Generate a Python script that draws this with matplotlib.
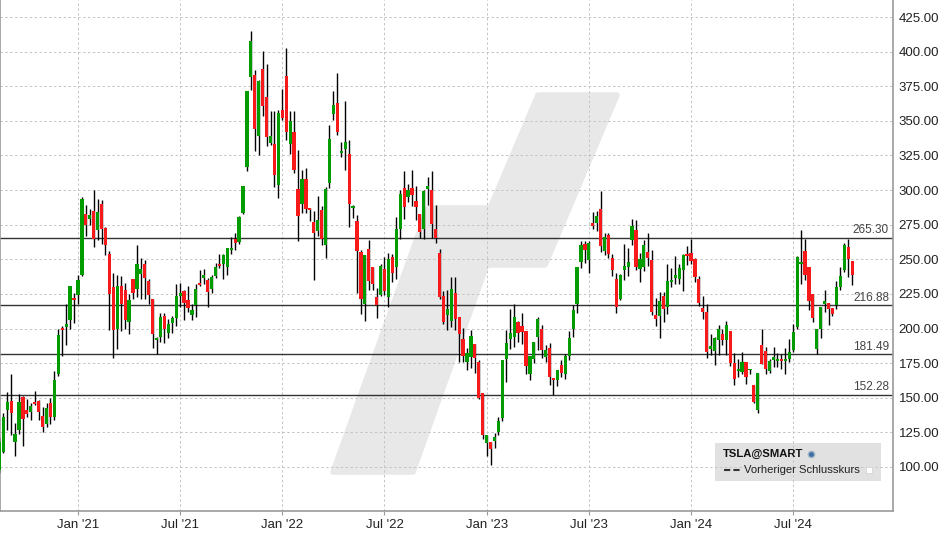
import matplotlib
matplotlib.use('Agg')
import matplotlib.pyplot as plt
import matplotlib.dates as mdates
from matplotlib.patches import Polygon, Rectangle
from matplotlib.lines import Line2D
import numpy as np
import pandas as pd

plt.rcParams['font.family'] = ['Liberation Sans', 'DejaVu Sans']

# weekly candles TSLA
opens = [98, 111, 141, 148, 118, 126.5, 150.5, 141, 140, 147, 148, 137, 131, 146, 136, 167, 200.5, 201, 206, 222,
         224, 239, 283, 279, 285, 271, 290, 272.5, 254, 230, 199.5, 231, 228, 204.6, 235.7, 228.4, 239.3, 246.5, 234, 221,
         191.6, 194, 209, 196.7, 203.7, 207.6, 223.3, 227, 220.4, 209.8, 216.8, 232.7, 236.4, 235, 228.4, 237.8, 246.5, 246.5, 244.3, 256.6,
         265, 262.4, 283.5, 316.7, 382, 383, 339, 387.4, 367, 333.8, 333, 303.4, 357.7, 382.6, 333, 341.8, 301, 290.3, 307.7, 287,
         277.3, 270.8, 285.3, 260, 304.8, 354.8, 362.8, 326.6, 329.5, 325.8, 286.8, 278, 255, 218, 257.2, 244.2, 222.5, 224, 242.7, 222.5,
         251.4, 244.2, 271.6, 301.3, 294.8, 301.3, 291.9, 282.5, 271.6, 300.5, 299.8, 271.6, 254.3, 223.2, 209.5, 205.5, 225.5, 208.2, 192.3, 175.7,
         179.3, 188.7, 175.7, 153.4, 117.3, 118, 119, 125, 135.6, 178.1, 192.5, 194, 204.6, 201.7, 198.1, 167.3, 177.9, 194, 199.5, 179.3,
         185.8, 164.3, 162.7, 173.5, 167, 180, 199.8, 217.6, 248, 261, 249.4, 276.1, 276.1, 286.3, 255.9, 267.5, 250.8, 235.7, 221.2, 242.2,
         244.3, 263.9, 271.1, 242.8, 244.2, 255, 249.3, 209.6, 208.9, 223.3, 215.4, 233.4, 236.3, 235.6, 242.1, 253.6, 254.3, 250, 235.6, 214.7,
         211.8, 185.1, 183.7, 191.6, 195.9, 191.6, 198.1, 175, 169.2, 168.8, 176, 169.7, 159.4, 141.3, 188.2, 183.9, 169.5, 177.4, 176.7, 177.9,
         176.7, 178.1, 184.6, 201.2, 246.9, 256, 244.5, 225, 185.3, 199.8, 217.8, 218.5, 214.9, 217.1, 230, 242.3, 258.9, 248.8]
highs = [122, 139, 154, 167, 132, 153, 151, 149, 146, 155, 148.5, 143, 146, 150, 169, 199.5, 202, 218, 231, 226,
         239, 295, 289, 286, 300, 293.5, 293, 273, 256, 240, 239, 238, 233, 225, 236, 260, 251, 249.4, 236, 221,
         194, 211, 211, 207, 209, 232, 233, 228, 230.5, 217.5, 232, 242, 243, 236.4, 238.5, 247, 253.7, 253.7, 258, 266,
         269, 281.3, 303, 371.5, 415, 386.7, 379.5, 400.5, 391, 357, 357, 357.7, 373, 402.7, 357, 357, 328.7, 314.3, 315.7, 287,
         285, 296, 288.2, 302, 347, 371.5, 384.5, 335, 364.3, 336, 289, 281.7, 256.4, 252.8, 263.7, 244.2, 229, 246.3, 251.4, 254.3,
         253.6, 280.3, 300, 313.6, 304.2, 314.3, 302.7, 282.5, 300, 309.2, 313.6, 289, 257.2, 226.8, 227.5, 237, 237, 208.2, 200.2, 185.8,
         198.8, 188.7, 177.2, 153.4, 123.1, 118, 124.5, 136, 177.2, 198.8, 213.9, 217.5, 205.3, 211, 198.1, 180.1, 190.1, 208.2, 202.4, 188,
         189.4, 164.3, 169.9, 177.1, 181.4, 198.1, 216.9, 244.3, 263.1, 263.1, 263.1, 284.1, 284.8, 299.3, 268.9, 268.9, 253.7, 240, 239.3, 261,
         258, 279, 278.3, 254.3, 263.7, 268.8, 256.5, 221.9, 226.2, 226.2, 246.4, 243.5, 252.2, 246.4, 253.6, 259.4, 264.4, 250.7, 237.7, 223.3,
         217.5, 195.9, 193.8, 202.4, 199.5, 205.3, 198.1, 182.2, 177.9, 183.2, 176, 170.9, 159.4, 168, 199.8, 186.8, 178.1, 186.8, 182.5, 181.7,
         186.1, 192.5, 203.4, 252.4, 271.2, 264.7, 244.5, 225, 199.8, 215.6, 227.9, 218.5, 214.9, 234.4, 244.5, 261.8, 264.7, 248.8]
lows = [96, 110, 127, 123, 108, 123.5, 115, 136, 134, 144.5, 134, 125, 129, 131, 134, 166, 180, 188, 200, 204,
        218, 238, 267, 275, 259, 264, 261, 253, 199, 179, 185, 198, 199.5, 196, 221, 223, 221, 221, 218, 186,
        181.5, 190, 189.5, 193, 196.7, 202, 215.6, 206, 212, 206, 208, 231, 232, 215.6, 225.5, 236.4, 243.6, 235.6, 238.5, 253.7,
        256.6, 261, 282.7, 313.8, 372, 328, 325, 353.4, 332, 332.4, 302, 294, 350.5, 336, 326, 312, 263, 283.3, 283.3, 278,
        234.8, 267, 260, 250.7, 301.4, 350.5, 339.6, 323.7, 314.3, 273, 279.6, 225.4, 210.2, 205.8, 227.5, 227.5, 207.3, 223.2, 224, 215.2,
        233.3, 235.5, 265, 278.9, 291.1, 288.3, 278.1, 265.1, 265, 289, 265.1, 261.5, 221, 203, 198.6, 201.2, 199, 175.7, 175.7, 170,
        171.4, 167.8, 149, 120.4, 108, 101.4, 113.7, 123, 133.4, 161.5, 185.3, 186.8, 190.1, 188.7, 167.3, 163, 175, 184.4, 178.6, 175.7,
        159, 151.8, 158.3, 164.8, 163.4, 177.1, 193.7, 211.1, 243.6, 247.2, 240, 271.8, 270.4, 255.2, 253, 250.8, 237.8, 211.1, 220.5, 235,
        237.8, 260.2, 242.2, 233.4, 241.3, 245, 209.6, 201.7, 193, 204.6, 210.3, 229.8, 232, 232, 226.9, 245.7, 246.9, 233.4, 216.1, 206.7,
        178.6, 180.8, 173.6, 180.8, 188, 180.8, 172.8, 159.1, 164.9, 167.3, 160.1, 167.3, 146.4, 139, 174.5, 167.3, 168, 172.4, 172.4, 170.9,
        167.3, 176, 183.2, 199.8, 232.2, 235.1, 213.5, 204.8, 181.7, 193.3, 212, 202.6, 209.1, 214.2, 227.9, 240.9, 237.3, 231.5]
closes = [118, 136, 147, 139, 124, 147, 135, 138, 144, 145.5, 140, 129, 142.5, 136, 163, 195, 199, 203, 231, 220.5,
          235, 293.5, 275, 282, 265, 284, 272, 260, 225, 199, 230.6, 217.6, 206, 220.5, 225.5, 246.5, 243, 236.4, 224, 196,
          193, 208, 199.4, 203, 207.4, 223.3, 226, 218.5, 215, 213.6, 228.4, 231.3, 238.5, 226.2, 237, 244.3, 245, 253, 258, 258,
          261.7, 280.6, 303, 371.5, 407.7, 344, 379, 360.6, 338, 338.9, 310.6, 355.8, 352, 341.8, 349.8, 314.3, 281.6, 307.7, 286, 285.5,
          269.3, 278.7, 265, 301, 336.7, 361.4, 341.8, 328, 334.5, 290, 288.3, 255.7, 221, 252.8, 234.1, 232, 216.7, 245, 226.8, 250,
          239.8, 271.6, 297, 287.5, 299.8, 296.2, 287.5, 269.5, 299, 302.7, 275.2, 265.1, 222.5, 204.4, 213.8, 228.4, 207, 196, 180.3, 182.2,
          194.5, 178.8, 150, 123.3, 123.1, 113.2, 121.6, 133.4, 177.2, 189.4, 196.6, 208.2, 196.9, 197.4, 173.1, 180.1, 190.1, 206.7, 184.3, 184.3,
          164.8, 162.9, 169.9, 167.7, 180, 193, 213.3, 244.3, 260.2, 256.6, 261.7, 274, 281.2, 259.5, 266, 253.7, 242.2, 215.4, 238.6, 245,
          248, 274, 244.1, 250, 260.1, 250.7, 211.8, 207, 219.7, 214, 234.1, 234.9, 238.5, 243.5, 252.9, 252.4, 248.6, 237, 218.3, 211.8,
          182.9, 187.3, 193, 199.5, 191.6, 202.4, 175, 163.5, 170.7, 176, 165.1, 170.9, 147.1, 168, 174.5, 170.9, 176.7, 179.1, 178.1, 176.7,
          178.1, 183.2, 197.6, 251.7, 248.1, 238.7, 220, 207.7, 199.8, 215.6, 220, 214.2, 210.6, 230, 238, 260.3, 250.2, 238.7]
levels = [265.30, 216.88, 181.49, 152.28]
ytick_vals = list(range(100, 426, 25))

dates = pd.date_range('2020-08-17', periods=len(opens), freq='7D')
x = mdates.date2num(dates)
o = np.array(opens); h = np.array(highs); l = np.array(lows); c = np.array(closes)
up = c >= o

W, H = 948, 539
fig = plt.figure(figsize=(W / 100, H / 100), dpi=100)
ax = fig.add_axes([0, 28 / H, 893 / W, 511 / H])
ax.set_facecolor('white')

# pixel helpers (axes fraction)
def ax_pt(px, py):
    return (px / 893, (511 - py) / 511)

# watermark: stepped slash made of two slanted pieces
wm_col = '#e8e8e8'
upper = [ax_pt(538, 95), ax_pt(617, 95), ax_pt(545, 265), ax_pt(466, 265)]
lower = [ax_pt(428, 208), ax_pt(507, 208), ax_pt(413, 472), ax_pt(333, 472)]
for pts in (upper, lower):
    ax.add_patch(Polygon(pts, closed=True, transform=ax.transAxes, facecolor=wm_col,
                         edgecolor=wm_col, lw=4, joinstyle='round', zorder=0.2))

# grid
grid_kw = dict(color='#c4c4c4', lw=0.7, ls=(0, (2.5, 2.5)), zorder=1)
for v in ytick_vals:
    ax.axhline(v, **grid_kw)

# x ticks: first candle of Jan / Jul
tick_idx = [i for i in range(1, len(dates)) if dates[i].month in (1, 7) and dates[i - 1].month != dates[i].month]
tick_x = x[tick_idx]
tick_lbl = [dates[i].strftime("%b '%y") for i in tick_idx]
for tx in tick_x:
    ax.axvline(tx, **grid_kw)

# legend box
ax.add_patch(Rectangle(ax_pt(715, 481), 166 / 893, 38 / 511, transform=ax.transAxes,
                       facecolor='#e1e1e1', edgecolor='none', zorder=0.5))
tx0, ty0 = ax_pt(723, 454)
ax.text(tx0, ty0, 'TSLA@SMART', transform=ax.transAxes, fontsize=8.1, fontweight='bold',
        va='center', ha='left', color='#111111', zorder=5)
ax.plot([ax_pt(811, 0)[0]], [ax_pt(0, 454)[1]], marker='o', ms=4.5, color='#3d6fa3',
        markeredgecolor='#9fb4c8', transform=ax.transAxes, zorder=5)
ax.add_line(Line2D([ax_pt(724, 0)[0], ax_pt(741, 0)[0]], [ax_pt(0, 470)[1]] * 2, transform=ax.transAxes,
                   color='#333333', lw=1.5, ls=(0, (3, 1.5)), zorder=5))
tx1, ty1 = ax_pt(744, 470)
ax.text(tx1, ty1, 'Vorheriger Schlusskurs', transform=ax.transAxes, fontsize=8.1,
        va='center', ha='left', color='#222222', zorder=5)
ax.add_patch(Rectangle(ax_pt(866, 473), 6 / 893, 6 / 511, transform=ax.transAxes,
                       facecolor='white', edgecolor='#d4d4d4', lw=0.6, zorder=5))

# level lines
for lv in levels:
    ax.axhline(lv, color='#333333', lw=1.0, zorder=2)
    ax.text(ax_pt(889, 0)[0], lv + 1.2, f'{lv:.2f}', transform=ax.get_yaxis_transform(),
            ha='right', va='bottom', fontsize=8.5, color='#444444', zorder=3)

# candles
ax.vlines(x, l, h, color='black', lw=1.0, zorder=3)
bw = 7 * 0.82
ax.bar(x, np.maximum(np.abs(c - o), 0.6), bottom=np.minimum(o, c), width=bw,
       color=np.where(up, '#009c00', '#f81a1a'), edgecolor='none', zorder=4)

# axes
x_left = x[0] + 0.16 * 7
x_right = x[0] + 227.4 * 7
ax.set_xlim(x_left, x_right)
ax.set_ylim(425 - 494 / 1.3846, 425 + 17 / 1.3846)
ax.set_xticks(tick_x)
ax.set_xticklabels(tick_lbl)
ax.set_yticks(ytick_vals)
ax.set_yticklabels([f'{v:.2f}' for v in ytick_vals])
ax.yaxis.tick_right()
ax.tick_params(axis='y', length=0, pad=4, labelsize=9.5, labelcolor='#222222')
ax.tick_params(axis='x', length=3, color='#999999', pad=3, labelsize=9.5, labelcolor='#222222')
ax.spines['top'].set_visible(False)
for s in ['left', 'right', 'bottom']:
    ax.spines[s].set_color('#9a9a9a')
    ax.spines[s].set_linewidth(1.2)

fig.savefig('out.png', dpi=100, facecolor='white')
